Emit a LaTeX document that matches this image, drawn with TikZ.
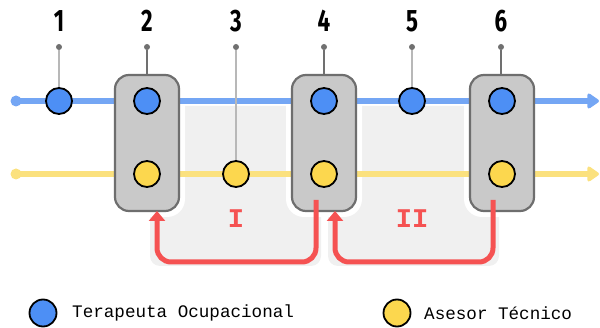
\documentclass[tikz,border=0pt]{standalone}
\usepackage{fontspec}
\setmainfont{Liberation Sans}
\newfontfamily\numfont{Fira Sans}
\newfontfamily\monofont{Liberation Mono}
\usetikzlibrary{arrows.meta}
\definecolor{bluefill}{HTML}{4D8FF5}
\definecolor{blueline}{HTML}{74A6F4}
\definecolor{yelfill}{HTML}{FCD74E}
\definecolor{yelline}{HTML}{FBE17E}
\definecolor{boxfill}{HTML}{C9C9C9}
\definecolor{boxline}{HTML}{6E6E6E}
\definecolor{regionfill}{HTML}{F0F0F0}
\definecolor{redarrow}{HTML}{F55252}
\definecolor{tick}{HTML}{707070}
\begin{document}
\begin{tikzpicture}[x=1pt,y=-1pt,
  person/.style={circle,draw=black,line width=1.8pt,minimum size=26pt,inner sep=0pt},
  tperson/.style={person,fill=bluefill},
  aperson/.style={person,fill=yelfill},
  stagebox/.style={draw=boxline,fill=boxfill,line width=2.2pt,rounded corners=14pt,minimum width=64pt,minimum height=136pt,inner sep=0pt},
  halo/.style={fill=white,rounded corners=18pt,minimum width=76pt,minimum height=148pt,inner sep=0pt},
  num/.style={font=\numfont\bfseries\fontsize{31}{31}\selectfont,xscale=0.72,inner sep=0pt},
  tickdot/.style={circle,fill=tick,minimum size=6pt,inner sep=0pt},
  thinline/.style={draw=black!28,line width=1.3pt},
  darkline/.style={draw=tick,line width=1.5pt},
  flowblue/.style={draw=blueline,line width=6pt,-{Triangle[length=13pt,width=17pt,round]}},
  flowyel/.style={draw=yelline,line width=6pt,-{Triangle[length=13pt,width=17pt,round]}},
  loop/.style={draw=redarrow,line width=5pt,rounded corners=14pt,-{Triangle[length=10pt,width=16pt]}},
  roman/.style={text=redarrow,font=\monofont\bfseries\fontsize{27}{27}\selectfont,inner sep=0pt},
  legend/.style={font=\monofont\fontsize{17.6}{17.6}\selectfont,anchor=west,inner sep=0pt}
]
\useasboundingbox (0,0) rectangle (600,328);
% regions
\fill[regionfill,rounded corners=10pt] (150,106) rectangle (321,266);
\fill[regionfill,rounded corners=10pt] (328,106) rectangle (499,266);
% halos
\foreach \n/\x in {h2/147,h4/324,h6/502} \node[halo] (\n) at (\x,143) {};
% flow lines
\coordinate (bstart) at (16,101);
\coordinate (bend) at (599,101);
\coordinate (ystart) at (16,174);
\coordinate (yend) at (599,174);
\fill[blueline] (bstart) circle (5.5pt);
\fill[yelline] (ystart) circle (5.5pt);
\draw[flowblue] (bstart) -- (bend);
\draw[flowyel] (ystart) -- (yend);
% boxes
\node[stagebox] (box2) at (147,143) {};
\node[stagebox] (box4) at (324,143) {};
\node[stagebox] (box6) at (502,143) {};
% numbers and ticks
\foreach \i/\x in {1/59,2/147,3/236,4/324,5/412,6/501} {
  \node[num] (n\i) at (\x,21) {\i};
  \node[tickdot] (d\i) at (\x,47) {};
}
% tick lines
\coordinate (c1) at (59,101);
\coordinate (c3) at (236,174);
\coordinate (c5) at (412,101);
\draw[thinline] (d1) -- (c1);
\draw[thinline] (d3) -- (c3);
\draw[thinline] (d5) -- (c5);
\draw[darkline] (d2) -- (box2.north);
\draw[darkline] (d4) -- (box4.north);
\draw[darkline] (d6) -- (box6.north -| d6);
% people
\node[tperson] (t1) at (c1) {};
\node[tperson] (t2) at (147,101) {};
\node[aperson] (a2) at (147,174) {};
\node[aperson] (a3) at (c3) {};
\node[tperson] (t4) at (324,101) {};
\node[aperson] (a4) at (324,174) {};
\node[tperson] (t5) at (c5) {};
\node[tperson] (t6) at (502,101) {};
\node[aperson] (a6) at (502,174) {};
% loops
\coordinate (r1s) at (316,200);
\coordinate (r2s) at (493,200);
\draw[loop] (r1s) -- (316,262) -- (157,262) -- (157,211);
\draw[loop] (r2s) -- (493,262) -- (335,262) -- (335,211);
\node[roman] (rI) at (236,219) {I};
\node[roman] (rII) at (412,219) {II};
% legend
\node[tperson,minimum size=27pt] (lt) at (43,313) {};
\node[legend] (lt-text) at (72,313) {Terapeuta Ocupacional};
\node[aperson,minimum size=27pt] (la) at (397,313) {};
\node[legend] (la-text) at (424,313) {Asesor Técnico};
\end{tikzpicture}
\end{document}
